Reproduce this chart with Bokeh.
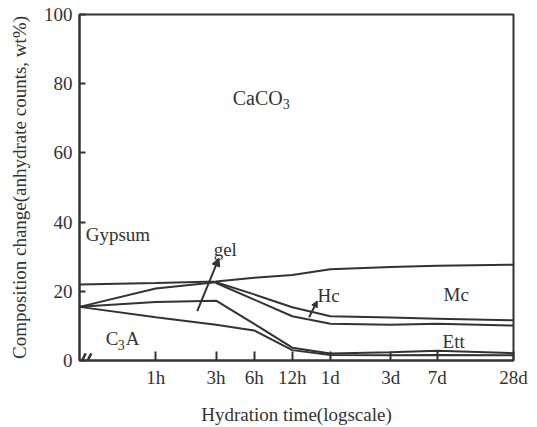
from bokeh.plotting import figure
from bokeh.models import FixedTicker, Arrow, NormalHead, ColumnDataSource
from bokeh.core.properties import value
from bokeh.embed import file_html
from bokeh.resources import INLINE

# ---- data (hours on a log axis) ----
hours = [0.25, 1, 3, 6, 12, 24, 72, 168, 672]
caco3_bottom = [22.0, 22.4, 22.8, 23.9, 24.7, 26.4, 27.0, 27.4, 27.7]
gel_top = [15.5, 20.8, 22.6, 19.1, 15.4, 12.8, 12.4, 12.1, 11.6]
hc_hours = [3, 6, 12, 24, 72, 168, 672]
hc_bottom = [22.4, 17.6, 12.8, 10.6, 10.3, 10.6, 10.1]
gel_bottom = [15.5, 16.9, 17.3, 10.6, 3.7, 2.0, 2.4, 2.8, 2.1]
c3a_top = [15.5, 12.5, 10.3, 8.7, 3.0, 1.6, 1.5, 1.6, 1.5]

tick_hours = [1, 3, 6, 12, 24, 72, 168, 672]
tick_labels = ["1h", "3h", "6h", "12h", "1d", "3d", "7d", "28d"]
y_ticks = [0, 20, 40, 60, 80, 100]

FONT = "Liberation Serif"
INK = "#333333"

p = figure(width=537, height=427, x_axis_type="log",
           x_range=(0.25, 672), y_range=(0, 100),
           output_backend="svg", toolbar_location=None,
           min_border_left=79, min_border_right=24,
           min_border_top=14, min_border_bottom=64)
p.background_fill_color = "white"
p.border_fill_color = "white"
p.grid.visible = False
p.outline_line_color = INK
p.outline_line_width = 2

for ax in (p.xaxis[0], p.yaxis[0]):
    ax.axis_line_color = INK
    ax.axis_line_width = 2
    ax.major_tick_line_color = INK
    ax.major_tick_line_width = 2
    ax.major_tick_out = 0
    ax.minor_tick_line_color = None
    ax.major_label_text_font = FONT
    ax.major_label_text_font_size = "19px"
    ax.major_label_text_color = INK
    ax.axis_label_text_font = FONT
    ax.axis_label_text_font_size = "19px"
    ax.axis_label_text_font_style = "normal"
    ax.axis_label_text_color = INK

p.xaxis.ticker = FixedTicker(ticks=tick_hours)
p.xaxis.major_label_overrides = {h: l for h, l in zip(tick_hours, tick_labels)}
p.xaxis.major_tick_in = 9
p.xaxis.major_label_standoff = 6
p.xaxis.axis_label = "Hydration time(logscale)"
p.xaxis.axis_label_standoff = 13

p.yaxis.ticker = FixedTicker(ticks=y_ticks)
p.yaxis.major_tick_in = 6
p.yaxis.major_label_standoff = 7
p.yaxis.axis_label = "Composition change(anhydrate counts, wt%)"
p.yaxis.axis_label_standoff = 11

lw = 2
p.line(hours, caco3_bottom, line_color=INK, line_width=lw)
p.line(hours, gel_top, line_color=INK, line_width=lw)
p.line(hc_hours, hc_bottom, line_color=INK, line_width=lw)
p.line(hours, gel_bottom, line_color=INK, line_width=lw)
p.line(hours, c3a_top, line_color=INK, line_width=lw)

# axis break marks at the origin
p.scatter([0.262, 0.29], [0, 0], marker="dash", size=16, angle=1.1,
          line_color=INK, line_width=2.5)

# pointer arrows
p.add_layout(Arrow(end=NormalHead(size=8, fill_color=INK, line_color=INK),
                   x_start=2.13, y_start=14.3, x_end=3.16, y_end=29.6,
                   line_color=INK, line_width=2))
p.add_layout(Arrow(end=NormalHead(size=6, fill_color=INK, line_color=INK),
                   x_start=16.3, y_start=12.5, x_end=18.9, y_end=17.2,
                   line_color=INK, line_width=2))

# region labels
lab = ColumnDataSource(dict(
    x=[0.28, 2.87, 19.0, 188, 185],
    y=[36.5, 32.2, 18.8, 19.0, 5.6],
    t=["Gypsum", "gel", "Hc", "Mc", "Ett"]))
p.text("x", "y", text="t", source=lab, text_font=value(FONT),
       text_font_size="19px", text_color=INK, text_baseline="alphabetic",
       text_align="left")
# CaCO3 with subscript
p.text([4.06], [76.0], text=["CaCO"], text_font=value(FONT),
       text_font_size="20px", text_color=INK, text_baseline="alphabetic")
p.text([4.06], [76.0], text=["3"], x_offset=50, y_offset=6,
       text_font=value(FONT), text_font_size="14px", text_color=INK,
       text_baseline="alphabetic")
# C3A with subscript
p.text([0.403], [6.5], text=["C"], text_font=value(FONT),
       text_font_size="19px", text_color=INK, text_baseline="alphabetic")
p.text([0.403], [6.5], text=["3"], x_offset=12, y_offset=7,
       text_font=value(FONT), text_font_size="14px", text_color=INK,
       text_baseline="alphabetic")
p.text([0.403], [6.5], text=["A"], x_offset=20,
       text_font=value(FONT), text_font_size="19px", text_color=INK,
       text_baseline="alphabetic")

open("out.html", "w").write(file_html(p, INLINE))
